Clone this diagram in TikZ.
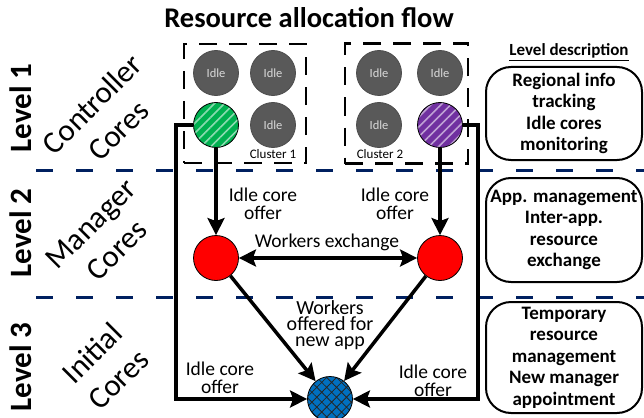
\documentclass[tikz,border=0pt]{standalone}
\usepackage{fontspec}
\setmainfont{Carlito}
\usetikzlibrary{arrows.meta, patterns.meta}

\definecolor{idlegray}{RGB}{89,89,89}
\definecolor{ctrlgreen}{RGB}{0,176,80}
\definecolor{ctrlpurple}{RGB}{112,48,160}
\definecolor{initblue}{RGB}{0,112,192}
\definecolor{levelnavy}{RGB}{0,32,96}

\lineskiplimit=-50pt

\tikzset{
core/.style={circle, draw, line width=0.8, minimum size=45pt, inner sep=0pt},
idle core/.style={core, fill=idlegray, draw=black!70, text=white!85!black, font=\fontsize{12.5}{14}\selectfont},
flow/.style={line width=3.5, ->},
cluster box/.style={draw, line width=2.5, dash pattern=on 18pt off 12pt},
level line/.style={draw=levelnavy, line width=3, dash pattern=on 17pt off 23pt},
level label/.style={rotate=90, font=\fontsize{31}{37}\bfseries\selectfont},
core label/.style={rotate=45, align=center, font=\fontsize{31}{37}\selectfont},
flow label/.style={align=center, font=\fontsize{19.5}{18}\selectfont},
description box/.style={draw, line width=2, rounded corners=25pt, minimum width=156pt, align=center, font=\fontsize{19}{21.5}\bfseries\selectfont}
}

\begin{document}
\begin{tikzpicture}[x=1pt, y=-1pt, >={Stealth[length=17pt, width=17pt, inset=3pt]}]
\useasboundingbox (0,0) rectangle (644,417);

\node[font=\fontsize{28.5}{34}\bfseries\selectfont] (title) at (309,18) {Resource allocation flow};

% level separators
\draw[level line] (36,170) -- (644,170);
\draw[level line] (36,297) -- (644,297);

\node[level label] (level 1) at (21,108) {Level 1};
\node[level label] (level 2) at (21,233) {Level 2};
\node[level label] (level 3) at (21,367) {Level 3};

\node[core label] (controller label) at (105,117) {Controller\\Cores};
\node[core label] (manager label) at (104,237) {Manager\\Cores};
\node[core label] (initial label) at (105,366) {Initial\\Cores};

% clusters of controller cores
\node[cluster box, minimum width=122pt, minimum height=119pt] (cluster 1 box) at (245,103.5) {};
\node[font=\fontsize{13}{15}\selectfont] (cluster 1 label) at (273,154) {Cluster 1};
\node[idle core] (idle 1a) at (216,73) {Idle};
\node[idle core] (idle 1b) at (273,73) {Idle};
\node[idle core] (idle 1c) at (273,125) {Idle};
\node[core, preaction={fill=ctrlgreen}, pattern={Lines[angle=45, distance=7pt, line width=1.6pt]}, pattern color=white!55!ctrlgreen] (green core) at (216,125) {};

\node[cluster box, minimum width=123pt, minimum height=120pt] (cluster 2 box) at (406.5,103.5) {};
\node[font=\fontsize{13}{15}\selectfont] (cluster 2 label) at (380,154) {Cluster 2};
\node[idle core] (idle 2a) at (379,73) {Idle};
\node[idle core] (idle 2b) at (440,73) {Idle};
\node[idle core] (idle 2c) at (379,125) {Idle};
\node[core, preaction={fill=ctrlpurple}, pattern={Lines[angle=45, distance=7pt, line width=1.6pt]}, pattern color=white!55!ctrlpurple] (purple core) at (440,125) {};

% manager and initial cores
\node[core, fill=red] (left manager) at (216,258) {};
\node[core, fill=red] (right manager) at (440,258) {};
\node[core, preaction={fill=initblue}, pattern={Hatch[angle=45, distance=7pt, line width=0.8pt]}, pattern color=black!85] (initial core) at (330,399) {};

\coordinate (left rail) at (176,125);
\coordinate (right rail) at (478,125);

\draw[flow] (green core) -- (left manager);
\draw[flow] (purple core) -- (right manager);
\draw[flow, <->] (left manager) -- (right manager);
\draw[flow] (left manager) -- (initial core);
\draw[flow] (right manager) -- (initial core);
\draw[flow] (green core.west) -- (left rail) |- (initial core.west);
\draw[flow] (purple core.east) -- (right rail) |- (initial core.east);

\node[flow label] (left offer) at (263,204) {Idle core\\offer};
\node[flow label] (right offer) at (395,204) {Idle core\\offer};
\node[flow label] (exchange label) at (327,242) {Workers exchange};
\node[flow label, font=\fontsize{20}{16}\selectfont] (new app label) at (330,325) {Workers\\offered for\\new app};
\node[flow label] (bottom left offer) at (220,378) {Idle core\\offer};
\node[flow label] (bottom right offer) at (433,381) {Idle core\\offer};

% level descriptions
\node[font=\fontsize{17}{20}\bfseries\selectfont] (description header) at (569,52) {\underline{Level description}};
\node[description box, minimum height=93pt] (level 1 box) at (564,113.5) {Regional info\\tracking\\Idle cores\\monitoring};
\node[description box, minimum height=104pt] (level 2 box) at (564,230) {App. management\\Inter-app.\\resource\\exchange};
\node[description box, minimum height=111pt] (level 3 box) at (564,357.5) {Temporary\\resource\\management\\New manager\\appointment};
\end{tikzpicture}
\end{document}
